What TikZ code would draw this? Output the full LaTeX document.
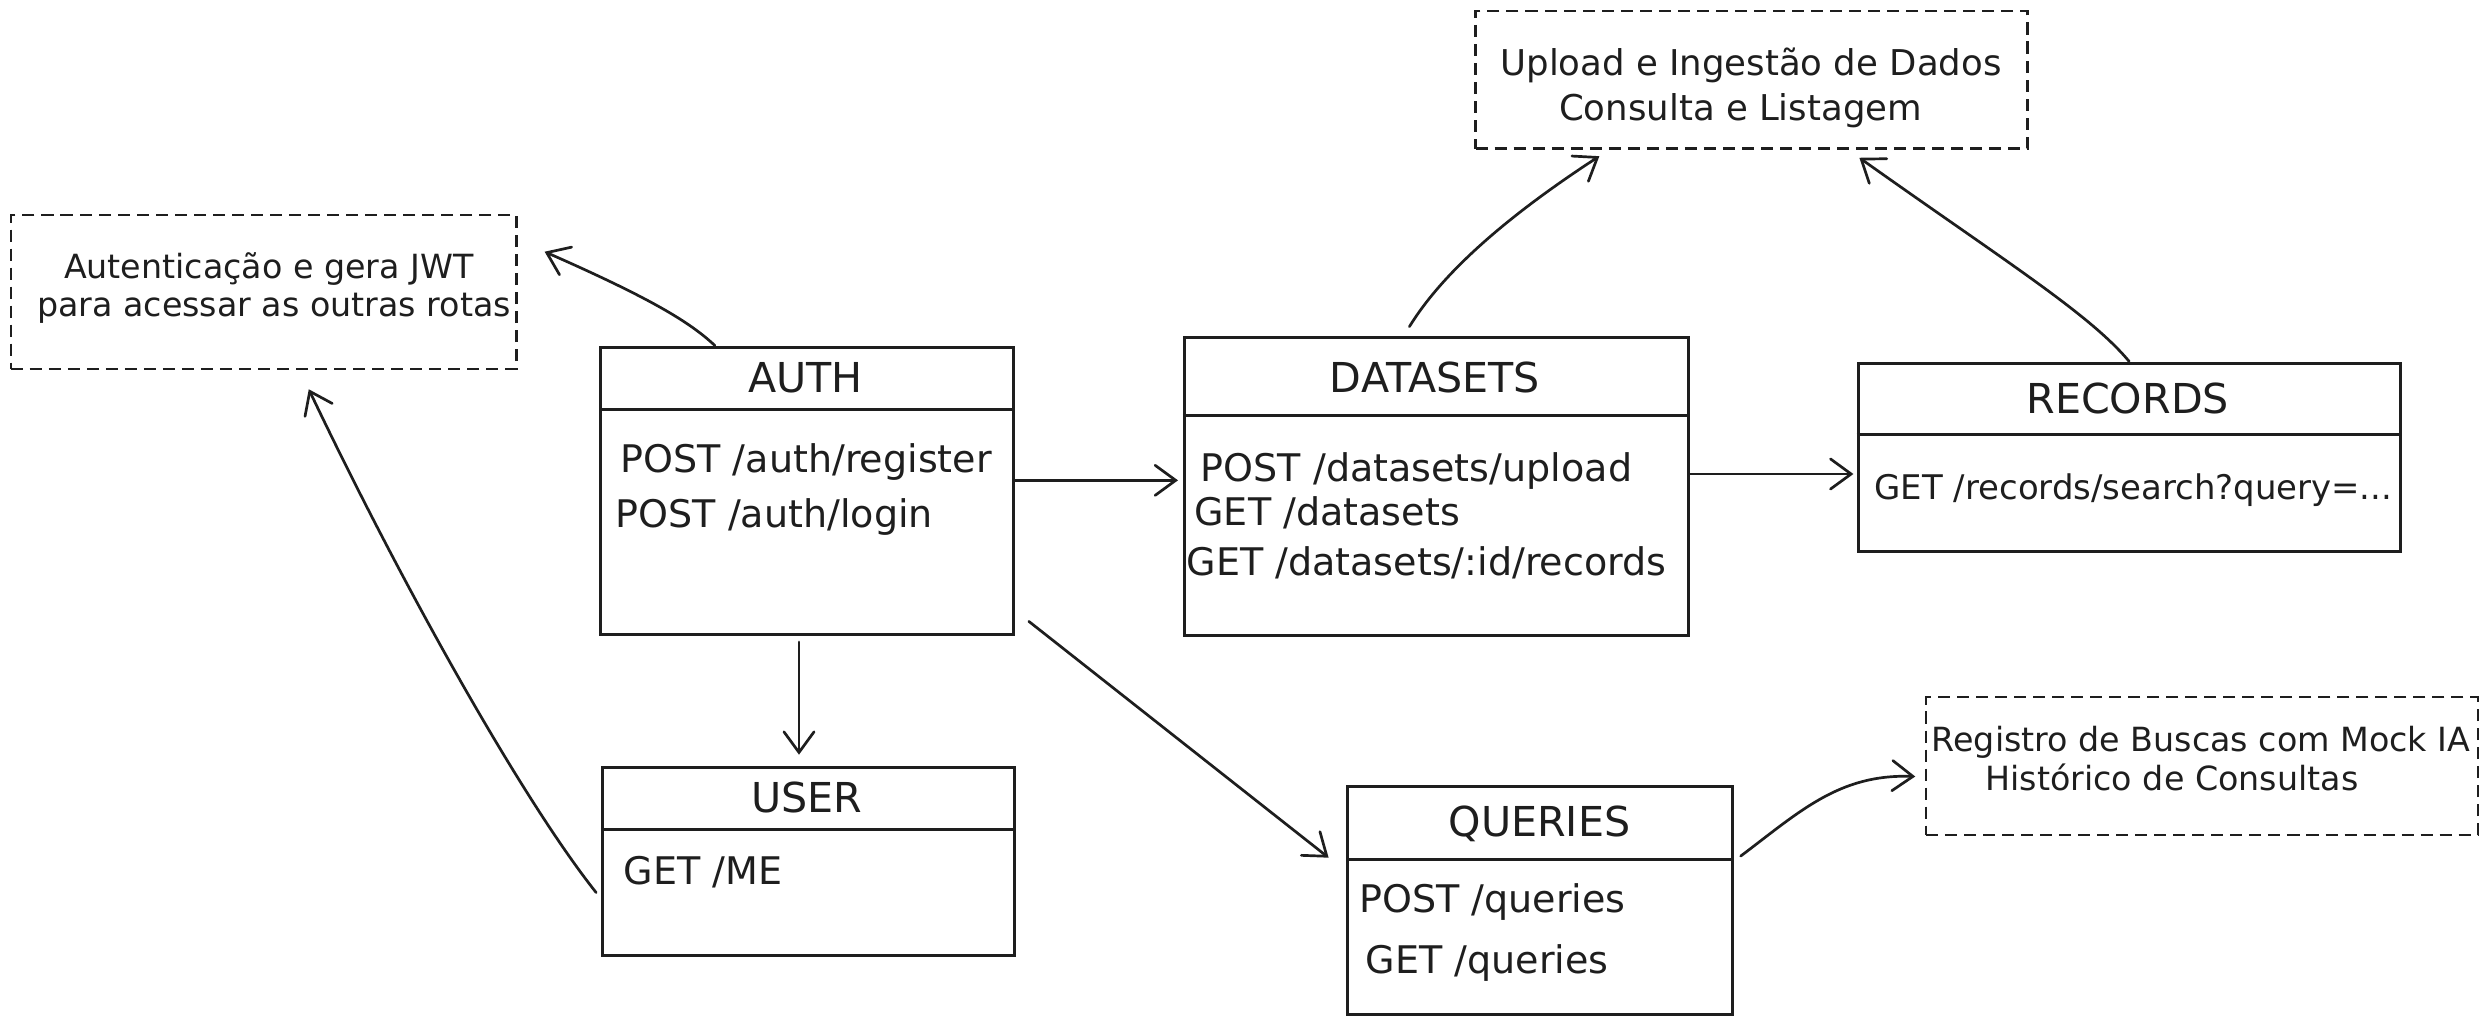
\documentclass[tikz,border=0pt]{standalone}
\usepackage{fontspec}
\setmainfont{DejaVu Sans}
\usetikzlibrary{arrows.meta,calc}
\definecolor{ink}{HTML}{1E1E1E}
\begin{document}
\begin{tikzpicture}[x=0.5pt,y=-0.5pt,
  box/.style={draw=ink, line width=0.95pt, rectangle, inner sep=0pt, anchor=north west},
  note/.style={draw=ink, line width=0.75pt, dash pattern=on 3.8pt off 2.2pt, rectangle, inner sep=0pt, anchor=north west},
  divider/.style={draw=ink, line width=0.95pt},
  title/.style={font=\fontsize{13}{15}\selectfont, text=ink, inner sep=0pt, text height=9.5pt, text depth=0pt},
  item/.style={font=\fontsize{12}{14}\selectfont, text=ink, inner sep=0pt, anchor=west, text height=8.75pt, text depth=0pt},
  notetext/.style={text=ink, inner sep=0pt, anchor=west, text height=7.8pt, text depth=0pt},
  arr/.style={draw=ink, line width=0.85pt, line cap=round, -{Straight Barb[length=6.5pt,width=9.5pt,line cap=round]}}]
\useasboundingbox (0,0) rectangle (1568,645);

% notes
\node[note, minimum width=159.5pt, minimum height=48.5pt] (authnote) at (6,135) {};
\node[notetext, font=\fontsize{10.5}{12}\selectfont] (an1) at (40,168) {Autenticação e gera JWT};
\node[notetext, font=\fontsize{10.5}{12}\selectfont] (an2) at (23,192) {para acessar as outras rotas};

\node[note, minimum width=174pt, minimum height=43.5pt] (upnote) at (930,6) {};
\node[notetext, font=\fontsize{11.2}{13}\selectfont] (un1) at (946,40) {Upload e Ingestão de Dados};
\node[notetext, font=\fontsize{11.2}{13}\selectfont] (un2) at (983,68) {Consulta e Listagem};

\node[note, minimum width=174pt, minimum height=43.5pt] (qnote) at (1214,439) {};
\node[notetext, font=\fontsize{10.5}{12}\selectfont] (qn1) at (1218,466) {Registro de Buscas com Mock IA};
\node[notetext, font=\fontsize{10.5}{12}\selectfont] (qn2) at (1252,491) {Histórico de Consultas};

% AUTH
\node[box, minimum width=130pt, minimum height=90.5pt] (auth) at (378,218) {};
\draw[divider] (auth.west |- 0,258) -- (auth.east |- 0,258);
\node[title] (authT) at (508,238) {AUTH};
\node[item] (a1) at (391,289) {POST /auth/register};
\node[item] (a2) at (388,324) {POST /auth/login};

% DATASETS
\node[box, minimum width=159pt, minimum height=94pt] (datasets) at (746,212) {};
\draw[divider] (datasets.west |- 0,262) -- (datasets.east |- 0,262);
\node[title] (dT) at (905,238) {DATASETS};
\node[item] (d1) at (757,295) {POST /datasets/upload};
\node[item] (d2) at (753,323) {GET /datasets};
\node[item] (d3) at (748,354) {GET /datasets/:id/records};

% RECORDS
\node[box, minimum width=171pt, minimum height=59.5pt] (records) at (1171,228) {};
\draw[divider] (records.west |- 0,274) -- (records.east |- 0,274);
\node[title] (rT) at (1342,251) {RECORDS};
\node[item, font=\fontsize{10.7}{13}\selectfont, text height=7.8pt] (r1) at (1182,307) {GET /records/search?query=...};

% USER
\node[box, minimum width=130pt, minimum height=59.5pt] (user) at (379,483) {};
\draw[divider] (user.west |- 0,523) -- (user.east |- 0,523);
\node[title] (uT) at (509,503) {USER};
\node[item] (u1) at (393,549) {GET /ME};

% QUERIES
\node[box, minimum width=121.5pt, minimum height=72pt] (queries) at (849,495) {};
\draw[divider] (queries.west |- 0,542) -- (queries.east |- 0,542);
\node[title] (qT) at (971,518) {QUERIES};
\node[item] (q1) at (857,567) {POST /queries};
\node[item] (q2) at (861,605) {GET /queries};

% connectors
\draw[arr] ([xshift=-29pt]auth.north) .. controls (435,203) and (410,188) .. ([xshift=8.5pt,yshift=12.75pt]authnote.east);
\draw[arr] ([xshift=-1.5pt,yshift=-9.75pt]user.west) .. controls (330,505) and (255,372) .. ([xshift=14.25pt,yshift=-6pt]authnote.south);
\draw[arr] ([xshift=-2.5pt,yshift=-2pt]auth.south) -- ([xshift=-3pt,yshift=3.5pt]user.north);
\draw[arr, shorten >=1.5pt] ([yshift=3.25pt]auth.east) -- ([yshift=3.25pt]auth.east -| datasets.west);
\draw[arr] ([xshift=4.5pt,yshift=4.5pt]auth.south east) -- ([xshift=-5.5pt,yshift=13.5pt]queries.west);
\draw[arr] ([xshift=-8.5pt,yshift=3pt]datasets.north) .. controls (908,175) and (945,140) .. ([xshift=-48pt,yshift=-2pt]upnote.south);
\draw[arr] (records.north) .. controls (1318,198) and (1265,165) .. ([xshift=34pt,yshift=-2.5pt]upnote.south);
\draw[arr, shorten >=1pt] ([yshift=4pt]datasets.east) -- ([yshift=4pt]datasets.east -| records.west);
\draw[arr] ([xshift=2pt,yshift=14pt]queries.east) .. controls (1135,512) and (1160,488) .. ([xshift=-3pt,yshift=-3.25pt]qnote.west);
\end{tikzpicture}
\end{document}
